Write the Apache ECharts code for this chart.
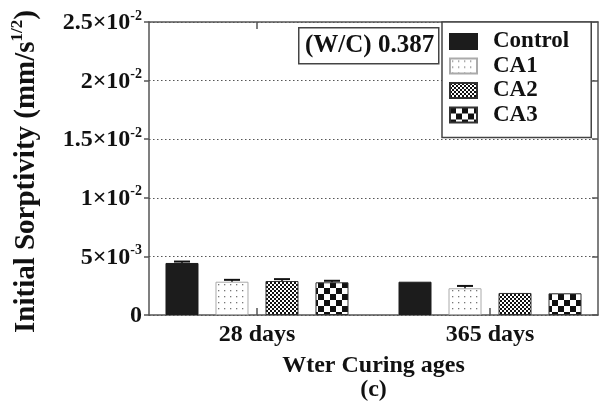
<!DOCTYPE html>
<html><head><meta charset="utf-8">
<script src="https://cdn.jsdelivr.net/npm/echarts@6/dist/echarts.min.js"></script>
<style>html,body{margin:0;padding:0;background:#fff}#c{width:606px;height:414px}</style>
</head><body><div id="c"></div>
<script>
// ---- data ----
var categories = ['28 days', '365 days'];
var seriesNames = ['Control', 'CA1', 'CA2', 'CA3'];
var controlValues = [4.44e-3, 2.84e-3];
var ca1Values = [2.84e-3, 2.28e-3];
var ca2Values = [2.90e-3, 1.88e-3];
var ca3Values = [2.79e-3, 1.85e-3];
var controlErr = [0.12e-3, 0];
var ca1Err = [0.16e-3, 0.20e-3];
var ca2Err = [0.16e-3, 0];
var ca3Err = [0.13e-3, 0];
var yTickMantissa = ['0', '5×10', '1×10', '1.5×10', '2×10', '2.5×10'];
var yTickExp = ['', '-3', '-2', '-2', '-2', '-2'];
var annotation = '(W/C) 0.387';
var xTitle = 'Wter Curing ages';
var subTitle = '(c)';

var allValues = [controlValues, ca1Values, ca2Values, ca3Values];
var allErr = [controlErr, ca1Err, ca2Err, ca3Err];

// ---- patterns ----
function makeCanvas(w, h, draw) {
  var c = document.createElement('canvas'); c.width = w; c.height = h;
  var ctx = c.getContext('2d'); draw(ctx); return c;
}
var dotPat = makeCanvas(6, 6, function (ctx) {
  ctx.fillStyle = '#fff'; ctx.fillRect(0, 0, 6, 6);
  ctx.fillStyle = '#777'; ctx.fillRect(2, 2, 1.3, 1.3);
});
var fineChk = makeCanvas(4, 4, function (ctx) {
  ctx.fillStyle = '#fff'; ctx.fillRect(0, 0, 4, 4);
  ctx.fillStyle = '#111'; ctx.fillRect(0, 0, 2, 2); ctx.fillRect(2, 2, 2, 2);
});
var bigChk = makeCanvas(12, 12, function (ctx) {
  ctx.fillStyle = '#fff'; ctx.fillRect(0, 0, 12, 12);
  ctx.fillStyle = '#111'; ctx.fillRect(0, 0, 6, 6); ctx.fillRect(6, 6, 6, 6);
});
var fills = ['#1c1c1c', {image: dotPat, repeat: 'repeat'}, {image: fineChk, repeat: 'repeat'}, {image: bigChk, repeat: 'repeat'}];
var borders = ['#1c1c1c', '#aaa', '#333', '#333'];

var FONT = "'Liberation Serif','Times New Roman',serif";
var BAR_W = 33, BAR_STEP = 50;

var series = seriesNames.map(function (n, k) {
  return {
    name: n, type: 'bar', barWidth: BAR_W, barGap: ((BAR_STEP - BAR_W) / BAR_W * 100) + '%',
    itemStyle: {color: fills[k], borderColor: borders[k], borderWidth: 1},
    data: allValues[k].map(function (v, i) { return [i, v]; })
  };
});
var errData = [];
allErr.forEach(function (arr, k) {
  arr.forEach(function (e, i) { errData.push([i, allValues[k][i], e, k]); });
});
series.push({
  type: 'custom', silent: true, z: 5,
  data: errData,
  renderItem: function (params, api) {
    var x = api.value(0), y = api.value(1), e = api.value(2), k = api.value(3);
    if (!e) return null;
    var off = (k - 1.5) * BAR_STEP;
    var p0 = api.coord([x, y]), p1 = api.coord([x, y + e]);
    var cx = p0[0] + off;
    return {type: 'group', children: [
      {type: 'line', shape: {x1: cx, y1: p0[1], x2: cx, y2: p1[1]}, style: {stroke: '#111', lineWidth: 1.5}},
      {type: 'line', shape: {x1: cx - 8, y1: p1[1], x2: cx + 8, y2: p1[1]}, style: {stroke: '#111', lineWidth: 2}}
    ]};
  }
});

var axisCol = '#555';
var option = {
  animation: false,
  textStyle: {fontFamily: FONT},
  grid: {left: 149, top: 22, right: 8, bottom: 99},
  legend: {
    orient: 'vertical', left: 442, top: 22, padding: [8, 22, 11, 7],
    borderColor: '#444', borderWidth: 1.5, backgroundColor: '#fff',
    icon: 'rect', itemWidth: 27, itemHeight: 15, itemGap: 1.5,
    textStyle: {fontFamily: FONT, fontWeight: 'bold', fontSize: 23, color: '#111', lineHeight: 20, padding: [0, 0, 0, 11]},
    data: seriesNames
  },
  xAxis: [{
    type: 'value', min: -0.4635, max: 1.4635, position: 'bottom',
    axisLine: {onZero: false, lineStyle: {color: axisCol, width: 1.5}},
    axisTick: {show: true, inside: true, length: 7, customValues: [0, 1], lineStyle: {color: axisCol, width: 1.5}},
    axisLabel: {customValues: [0, 1], margin: 8, fontFamily: FONT, fontWeight: 'bold', fontSize: 24, color: '#111',
      formatter: function (v) { return categories[Math.round(v)]; }},
    splitLine: {show: false},
    name: xTitle + '\n' + subTitle, nameLocation: 'middle', nameGap: 39,
    nameTextStyle: {fontFamily: FONT, fontWeight: 'bold', fontSize: 24, color: '#111', lineHeight: 24}
  }, {
    type: 'value', min: -0.4635, max: 1.4635, position: 'top',
    axisLine: {onZero: false, lineStyle: {color: axisCol, width: 1.5}},
    axisTick: {show: true, inside: true, length: 7, customValues: [0, 1], lineStyle: {color: axisCol, width: 1.5}},
    axisLabel: {show: false}, splitLine: {show: false}
  }],
  yAxis: [{
    type: 'value', min: 0, max: 0.025, interval: 0.005, position: 'left',
    axisLine: {show: true, onZero: false, lineStyle: {color: axisCol, width: 1.5}},
    axisTick: {show: true, length: 5, lineStyle: {color: axisCol, width: 1.5}},
    axisLabel: {margin: 7,
      formatter: function (v) { var i = Math.round(v / 0.005); return '{b|' + yTickMantissa[i] + '}' + (yTickExp[i] ? '{s|' + yTickExp[i] + '}' : ''); },
      rich: {
        b: {fontFamily: FONT, fontWeight: 'bold', fontSize: 24, color: '#111', lineHeight: 26, verticalAlign: 'bottom'},
        s: {fontFamily: FONT, fontWeight: 'bold', fontSize: 14, color: '#111', lineHeight: 14, verticalAlign: 'top'}
      }},
    splitLine: {show: true, lineStyle: {color: '#555', type: [1.5, 2.5], width: 1.2}},
    name: '{t|Initial Sorptivity (mm/s}{s|1/2}{t|)}', nameLocation: 'middle', nameRotate: 90, nameGap: 108,
    nameTextStyle: {padding: [0, 6, 0, 0], rich: {
      t: {fontFamily: FONT, fontWeight: 'bold', fontSize: 29, color: '#111', lineHeight: 32, verticalAlign: 'bottom'},
      s: {fontFamily: FONT, fontWeight: 'bold', fontSize: 17, color: '#111', lineHeight: 17, verticalAlign: 'top'}
    }}
  }, {
    type: 'value', min: 0, max: 0.025, interval: 0.005, position: 'right',
    axisLine: {show: true, onZero: false, lineStyle: {color: axisCol, width: 1.5}},
    axisTick: {show: true, inside: true, length: 6, lineStyle: {color: axisCol, width: 1.5}},
    axisLabel: {show: false}, splitLine: {show: false}
  }],
  graphic: [{
    type: 'rect', left: 298, top: 27, shape: {width: 140, height: 36},
    style: {fill: '#fff', stroke: '#444', lineWidth: 1.5}, z: 10
  }, {
    type: 'text', left: 305, top: 33, z: 11,
    style: {text: annotation, font: 'bold 25px ' + FONT, fill: '#111'}
  }],
  series: series
};
var chart = echarts.init(document.getElementById('c'), null, {renderer: 'canvas'});
chart.setOption(option);
</script></body></html>
